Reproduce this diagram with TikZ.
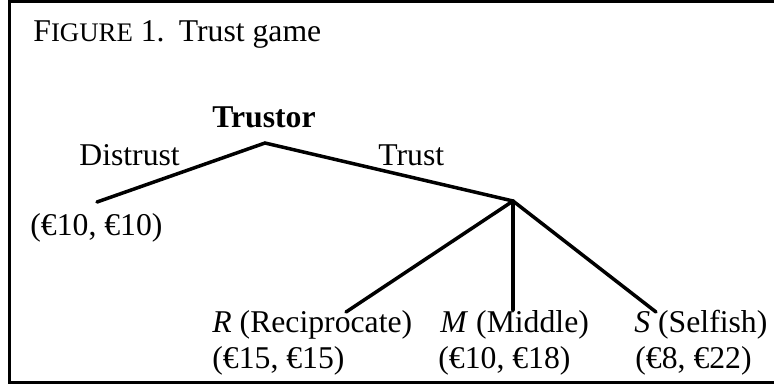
\documentclass[tikz,border=0pt]{standalone}
\usepackage{fontspec}
\setmainfont{Liberation Serif}
\usepackage{tikz}

\begin{document}
\begin{tikzpicture}[x=0.5pt, y=-0.5pt, every node/.style={font=\fontsize{15.85}{19}\selectfont, inner sep=0pt}, branch/.style={line width=1.75pt, line cap=round}, frame/.style={line width=1.5pt}, lab/.style={anchor=base west}]
	\useasboundingbox (0,0) rectangle (774,387);
	\draw[frame] (774,1.5) -- (9,1.5) -- (9,382) -- (774,382);
	\node[lab] (title) at (33,41) {F{\fontsize{13.4}{14}\selectfont IGURE} 1.\hspace{0.45em}Trust game};
	% tree vertices
	\coordinate (trustor) at (265,143);
	\coordinate (trustee) at (513,201);
	\coordinate (dend) at (97,202);
	\coordinate (rend) at (346,312);
	\coordinate (mend) at (513,310);
	\coordinate (send) at (656,312);
	\draw[branch] (dend) -- (trustor) -- (trustee);
	\draw[branch] (trustee) -- (rend);
	\draw[branch] (trustee) -- (mend);
	\draw[branch] (trustee) -- (send);
	\node[anchor=base, font=\fontsize{15.85}{19}\selectfont\bfseries] (tname) at (264,127) {Trustor};
	\node[lab] (dlab) at (79,165) {Distrust};
	\node[lab] (tlab) at (378,165) {Trust};
	\node[lab] (dpay) at (30,235) {(€10, €10)};
	% outcomes
	\node[lab] (rlab) at (212,332) {\textit{R} (Reciprocate)};
	\node[lab] (rpay) at (212,368) {(€15, €15)};
	\node[lab] (mlab) at (440,332) {\textit{M} (Middle)};
	\node[lab] (mpay) at (438,368) {(€10, €18)};
	\node[lab] (slab) at (634,332) {\textit{S} (Selfish)};
	\node[lab] (spay) at (635,368) {(€8, €22)};
\end{tikzpicture}
\end{document}
